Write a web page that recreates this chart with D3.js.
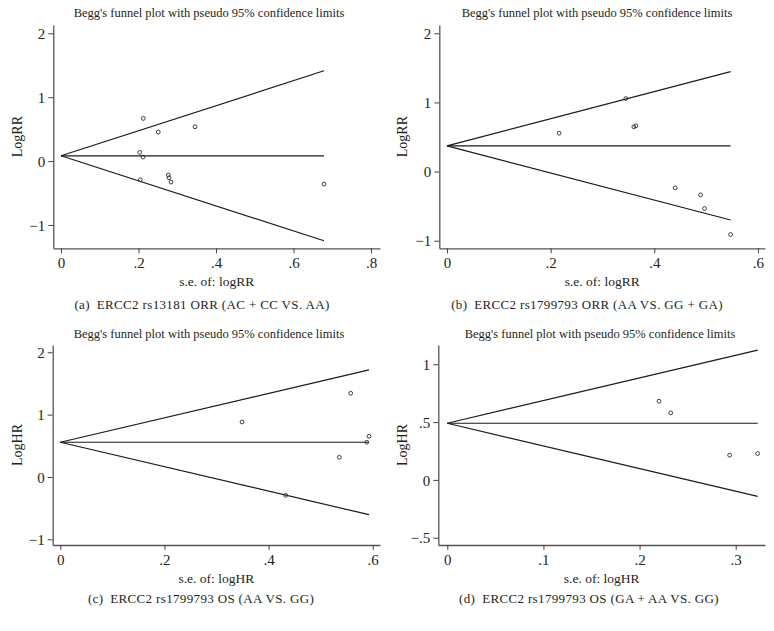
<!DOCTYPE html>
<html>
<head>
<meta charset="utf-8">
<script src="https://cdn.jsdelivr.net/npm/d3@7/dist/d3.min.js"></script>
<style>
  html, body { margin: 0; padding: 0; background: #fff; }
  svg { display: block; }
  text { font-family: "Liberation Serif", "Times New Roman", "DejaVu Serif", serif; fill: #231f20; }
</style>
</head>
<body>
<svg id="chart" width="774" height="631"></svg>
<script>
// ---------- data ----------
const seA  = [0.2125, 0.251, 0.3458, 0.203, 0.2116, 0.2047, 0.277, 0.2787, 0.2839, 0.6787];
const logA = [0.668, 0.454, 0.537, 0.136, 0.063, -0.292, -0.219, -0.261, -0.329, -0.360];

const seB  = [0.2163, 0.345, 0.3605, 0.3644, 0.4403, 0.4893, 0.4969, 0.5472];
const logB = [0.555, 1.056, 0.647, 0.661, -0.236, -0.337, -0.535, -0.911];

const seC  = [0.349, 0.5577, 0.5929, 0.5885, 0.5359, 0.4328];
const logC = [0.882, 1.343, 0.653, 0.557, 0.316, -0.294];

const seD  = [0.2202, 0.2324, 0.2937, 0.3229];
const logD = [0.681, 0.580, 0.214, 0.228];

const pooled = [0.083, 0.372, 0.557, 0.490];

const xTicksA = [0, 0.2, 0.4, 0.6, 0.8];
const xTicksB = [0, 0.2, 0.4, 0.6];
const xTicksC = [0, 0.2, 0.4, 0.6];
const xTicksD = [0, 0.1, 0.2, 0.3];
const yTicksA = [-1, 0, 1, 2];
const yTicksB = [-1, 0, 1, 2];
const yTicksC = [-1, 0, 1, 2];
const yTicksD = [-0.5, 0, 0.5, 1];

const titleText = "Begg's funnel plot with pseudo 95% confidence limits";
const xTitles = ["s.e. of: logRR", "s.e. of: logRR", "s.e. of: logHR", "s.e. of: logHR"];
const yTitles = ["LogRR", "LogRR", "LogHR", "LogHR"];
const captions = [
  "(a)\u2002ERCC2 rs13181 ORR (AC + CC VS. AA)",
  "(b)\u2002ERCC2 rs1799793 ORR (AA VS. GG + GA)",
  "(c)\u2002ERCC2 rs1799793 OS (AA VS. GG)",
  "(d)\u2002ERCC2 rs1799793 OS (GA + AA VS. GG)"
];

// ---------- layout (scale settings) ----------
const panels = [
  { se: seA, lg: logA, xt: xTicksA, yt: yTicksA, xd: [-0.0199, 0.8232], yd: [-1.365, 2.130],
    box: {l: 53.3, r: 380, t: 25, b: 248.3}, titleX: 209, titleY: 16.5, capX: 202, capY: 309, ylabX: 17 },
  { se: seB, lg: logB, xt: xTicksB, yt: yTicksB, xd: [-0.0149, 0.6136], yd: [-1.110, 2.120],
    box: {l: 439.3, r: 765, t: 25, b: 248.3}, titleX: 597, titleY: 16.5, capX: 587, capY: 309, ylabX: 402 },
  { se: seC, lg: logC, xt: xTicksC, yt: yTicksC, xd: [-0.0146, 0.614], yd: [-1.091, 2.117],
    box: {l: 52.7, r: 380, t: 345, b: 545}, titleX: 209, titleY: 337.5, capX: 201, capY: 603, ylabX: 17 },
  { se: seD, lg: logD, xt: xTicksD, yt: yTicksD, xd: [-0.00936, 0.3305], yd: [-0.563, 1.167],
    box: {l: 438.3, r: 765, t: 345, b: 545}, titleX: 600, titleY: 337.5, capX: 589, capY: 603, ylabX: 402 }
];

const fmt = d => {
  if (d === 0) return "0";
  let s = String(d).replace("0.", ".");
  return s.replace("-", "\u2212");
};

const svg = d3.select("#chart");
svg.append("rect").attr("width", 774).attr("height", 631).attr("fill", "#fff");

panels.forEach((p, i) => {
  const g = svg.append("g");
  const x = d3.scaleLinear().domain(p.xd).range([p.box.l, p.box.r]);
  const y = d3.scaleLinear().domain(p.yd).range([p.box.b, p.box.t]);

  // axes
  const xAxis = d3.axisBottom(x).tickValues(p.xt).tickFormat(fmt).tickSize(5).tickSizeOuter(0);
  const yAxis = d3.axisLeft(y).tickValues(p.yt).tickFormat(fmt).tickSize(5).tickSizeOuter(0);

  const gx = g.append("g").attr("transform", `translate(0,${p.box.b})`).call(xAxis);
  const gy = g.append("g").attr("transform", `translate(${p.box.l},0)`).call(yAxis);
  [gx, gy].forEach(a => {
    a.select(".domain").attr("stroke", "#555").attr("stroke-width", 1.3);
    a.selectAll(".tick line").attr("stroke", "#444").attr("stroke-width", 1);
    a.selectAll(".tick text").style("font-family", '"Liberation Serif", "Times New Roman", serif')
      .style("font-size", "15px").attr("fill", "#231f20");
  });
  gx.selectAll(".tick text").attr("dy", null).attr("y", 20);
  gy.selectAll(".tick text").attr("x", -8).attr("dy", "0.35em");

  // funnel lines
  const maxSe = d3.max(p.se);
  const theta = pooled[i];
  const lineGen = d3.line().x(d => x(d[0])).y(d => y(d[1]));
  const funnel = [
    [[0, theta], [maxSe, theta + 1.96 * maxSe]],
    [[0, theta], [maxSe, theta]],
    [[0, theta], [maxSe, theta - 1.96 * maxSe]]
  ];
  g.selectAll("path.funnel").data(funnel).enter().append("path")
    .attr("class", "funnel")
    .attr("d", lineGen)
    .attr("fill", "none").attr("stroke", "#1a1a1a").attr("stroke-width", 1.2);

  // points
  const pts = p.se.map((s, k) => [s, p.lg[k]]);
  g.selectAll("circle").data(pts).enter().append("circle")
    .attr("cx", d => x(d[0])).attr("cy", d => y(d[1])).attr("r", 1.9)
    .attr("fill", "none").attr("stroke", "#2a2a2a").attr("stroke-width", 0.9);

  // texts
  g.append("text").attr("x", p.titleX).attr("y", p.titleY).attr("text-anchor", "middle")
    .style("font-size", "12.5px").text(titleText);
  g.append("text").attr("x", (p.box.l + p.box.r) / 2).attr("y", p.box.b + 38).attr("text-anchor", "middle")
    .style("font-size", "13.5px").text(xTitles[i]);
  g.append("text").attr("transform", `translate(${p.ylabX + 4.8},${(p.box.t + p.box.b) / 2}) rotate(-90)`)
    .attr("text-anchor", "middle").style("font-size", "14px").text(yTitles[i]);
  g.append("text").attr("x", p.capX).attr("y", p.capY).attr("text-anchor", "middle")
    .style("font-size", "13px").style("letter-spacing", "0.35px").text(captions[i]);
});
</script>
</body>
</html>
